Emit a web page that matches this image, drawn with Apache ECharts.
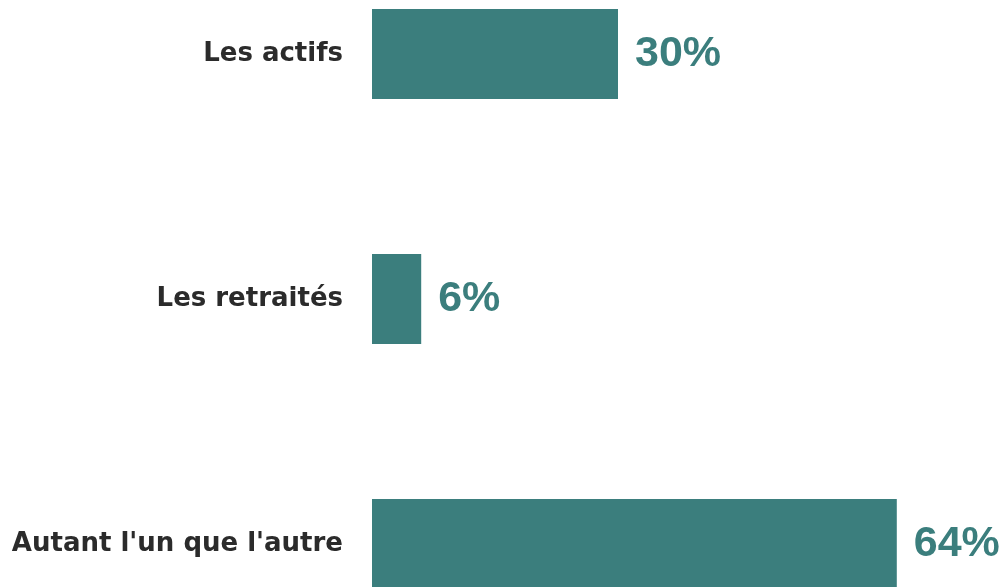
<!DOCTYPE html>
<html><head><meta charset="utf-8">
<script src="https://cdn.jsdelivr.net/npm/echarts@6/dist/echarts.min.js"></script>
<style>html,body{margin:0;padding:0;background:#fff}#c{width:1007px;height:587px}</style>
</head><body><div id="c"></div>
<script>
const categories = ["Les actifs", "Les retraités", "Autant l'un que l'autre"];
const values = [30, 6, 64];

const chart = echarts.init(document.getElementById('c'), null, {renderer: 'canvas'});
chart.setOption({
  animation: false,
  grid: {left: 372, right: 0, top: 54, bottom: 43},
  xAxis: {type: 'value', min: 0, max: 77.44, show: false},
  yAxis: {
    type: 'category', data: categories, inverse: true, boundaryGap: false,
    axisLine: {show: false}, axisTick: {show: false}, splitLine: {show: false},
    axisLabel: {margin: 29, color: '#2b2b2b', fontSize: 26, fontWeight: 'bold', fontFamily: 'DejaVu Sans'}
  },
  series: [{
    type: 'bar', data: values, barWidth: 90,
    itemStyle: {color: '#3b7e7d'},
    label: {show: true, position: 'right', distance: 17, formatter: '{c}%',
      color: '#3b7e7d', fontSize: 43, fontWeight: 'bold', fontFamily: 'Liberation Sans'}
  }]
});
</script></body></html>
